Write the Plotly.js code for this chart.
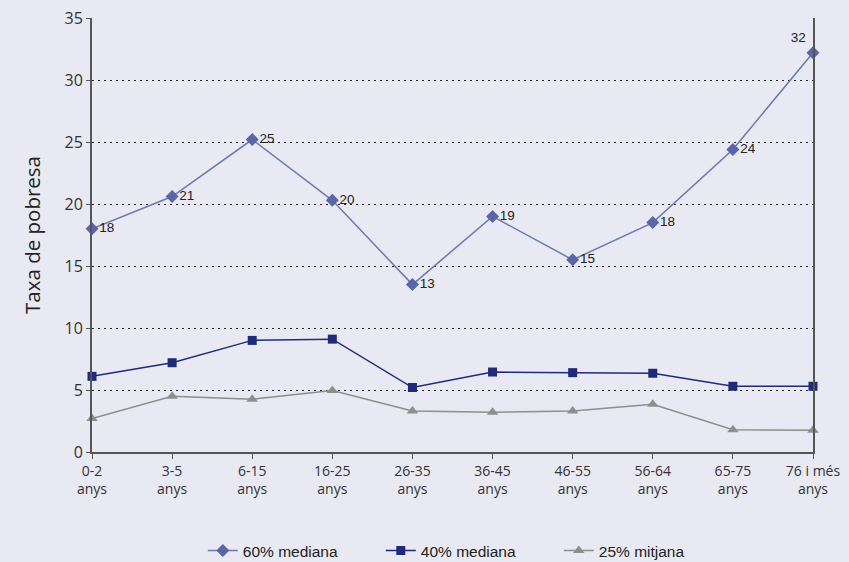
<!DOCTYPE html>
<html>
<head>
<meta charset="utf-8">
<script src="https://cdn.plot.ly/plotly-3.0.1.min.js"></script>
<style>html,body{margin:0;padding:0;background:#E8E9F2;}#chart{width:849px;height:562px;}</style>
</head>
<body>
<div id="chart"></div>
<script>
const categories = ["0-2<br>anys","3-5<br>anys","6-15<br>anys","16-25<br>anys","26-35<br>anys","36-45<br>anys","46-55<br>anys","56-64<br>anys","65-75<br>anys","76 i més<br>anys"];
const median60 = [18.0, 20.6, 25.2, 20.3, 13.5, 19.0, 15.5, 18.5, 24.4, 32.2];
const median60Labels = ["18","21","25","20","13","19","15","18","24","32"];
const median40 = [6.1, 7.2, 9.0, 9.1, 5.2, 6.45, 6.4, 6.35, 5.3, 5.3];
const mitjana25 = [2.7, 4.5, 4.25, 4.95, 3.3, 3.2, 3.3, 3.85, 1.8, 1.75];
const seriesNames = ["60% mediana","40% mediana","25% mitjana"];

const labelPositions = median60.map((v,i)=> i===median60.length-1 ? "top left" : "middle right");

const traces = [
  {x: categories, y: median60, name: seriesNames[0], mode: "lines+markers+text",
   text: median60Labels, textposition: labelPositions,
   textfont: {family: "Liberation Sans, Arial", size: 13.5, color: "#222"},
   line: {color: "#6D78B2", width: 1.5},
   marker: {symbol: "diamond", size: 10, color: "#5B67A5"}, cliponaxis: false},
  {x: categories, y: median40, name: seriesNames[1], mode: "lines+markers",
   line: {color: "#1F2A78", width: 1.5},
   marker: {symbol: "square", size: 9, color: "#1F2A78"}, cliponaxis: false},
  {x: categories, y: mitjana25, name: seriesNames[2], mode: "lines+markers",
   line: {color: "#8E8E8E", width: 1.5},
   marker: {symbol: "triangle-up", size: 10, color: "#8E8E8E"}, cliponaxis: false}
];

const layout = {
  width: 849, height: 562,
  paper_bgcolor: "#E8E9F2", plot_bgcolor: "#E8E9F2",
  margin: {l: 92, r: 36, t: 18, b: 110, autoexpand: false},
  font: {family: "Open Sans, Noto Sans, sans-serif", color: "#333"},
  showlegend: true,
  legend: {orientation: "h", x: 0.524, xanchor: "center", y: -0.228, yanchor: "middle",
           font: {family: "Liberation Sans, Arial", size: 15.5, color: "#222"},
           bgcolor: "rgba(0,0,0,0)", entrywidth: 133, itemwidth: 30},
  xaxis: {type: "category", range: [0, 9], showgrid: false, zeroline: false, automargin: false,
          showline: true, linecolor: "#555", linewidth: 2,
          ticks: "outside", ticklen: 5, tickcolor: "#555", tickwidth: 1,
          tickfont: {size: 14, color: "#333"}},
  yaxis: {range: [0, 35], dtick: 5, showgrid: true, gridcolor: "#222", griddash: "2px,4px", gridwidth: 1,
          zeroline: false, showline: true, linecolor: "#555", linewidth: 2, mirror: true, automargin: false,
          ticks: "outside", ticklen: 4, tickcolor: "#555", tickwidth: 1,
          tickfont: {size: 16, color: "#333"},
          title: {text: "Taxa de pobresa", font: {size: 20.5, color: "#222"}, standoff: 18}}
};

Plotly.newPlot("chart", traces, layout, {displayModeBar: false, staticPlot: true});
</script>
</body>
</html>
